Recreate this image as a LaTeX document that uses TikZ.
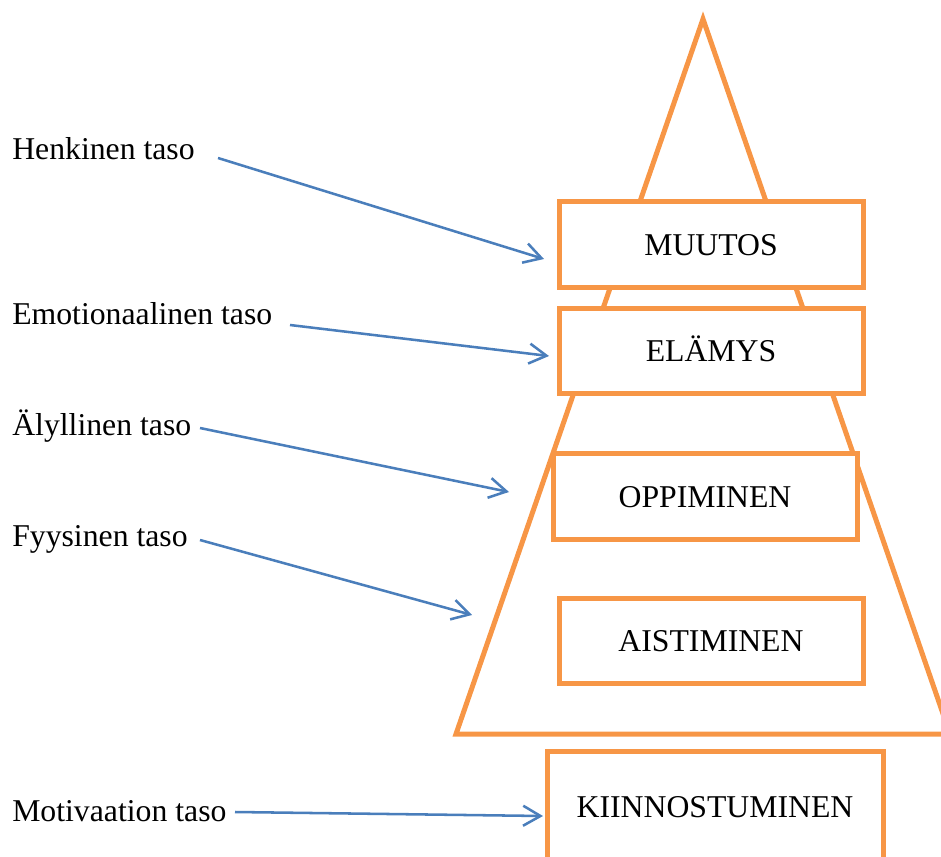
\documentclass[tikz,border=0pt]{standalone}
\usepackage{fontspec}
\setmainfont{Liberation Serif}
\usetikzlibrary{arrows.meta}
\definecolor{orng}{HTML}{F79646}
\definecolor{blu}{HTML}{4A7EBB}
\begin{document}
\begin{tikzpicture}[x=0.75pt,y=-0.75pt,
  txt/.style={font=\fontsize{23.8pt}{28pt}\selectfont},
  box/.style={txt,draw=orng,line width=3.75pt,fill=white,inner sep=0pt,text height=16pt,text depth=0pt,minimum width=228pt,minimum height=64pt},
  lbl/.style={txt,anchor=base west,inner sep=0pt},
  arr/.style={draw=blu,line width=1.9pt,-{Straight Barb[length=13pt,width=15pt]}}]
\useasboundingbox (0,0) rectangle (941,856);
\clip (0,0) rectangle (941,856);
\draw[orng,line width=3.75pt,line join=miter] (703,19) -- (950,734) -- (456,734) -- cycle;
\node[box] (muutos) at (711,244.5) {MUUTOS};
\node[box] (elamys) at (711,351) {ELÄMYS};
\node[box] (oppi) at (705,496.5) {OPPIMINEN};
\node[box] (aisti) at (711,641) {AISTIMINEN};
\node[box,minimum width=252pt,minimum height=83.25pt] (kiin) at (715,806.5) {KIINNOSTUMINEN};
\node[lbl] (henk) at (12,159) {Henkinen taso};
\node[lbl] (emo) at (12,324) {Emotionaalinen taso};
\node[lbl] (aly) at (12,435) {Älyllinen taso};
\node[lbl] (fyy) at (12,546) {Fyysinen taso};
\node[lbl] (mot) at (12,821) {Motivaation taso};
\coordinate (h1) at (218,158); \coordinate (h2) at (544,259);
\coordinate (e1) at (290,325); \coordinate (e2) at (549,356);
\coordinate (a1) at (200,428); \coordinate (a2) at (509,492);
\coordinate (f1) at (200,540); \coordinate (f2) at (472,615);
\coordinate (m1) at (235,812); \coordinate (m2) at (543,816);
\draw[arr] (h1) -- (h2);
\draw[arr] (e1) -- (e2);
\draw[arr] (a1) -- (a2);
\draw[arr] (f1) -- (f2);
\draw[arr] (m1) -- (m2);
\end{tikzpicture}
\end{document}
